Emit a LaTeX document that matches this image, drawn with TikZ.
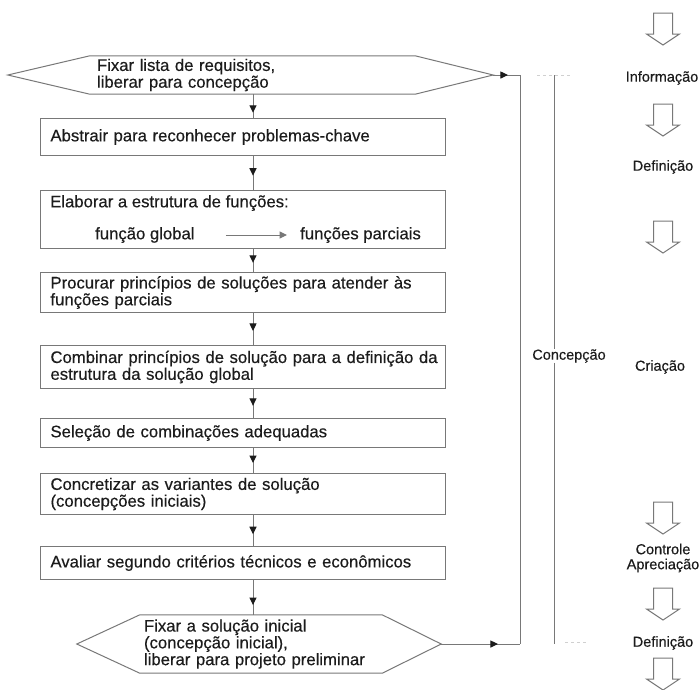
\documentclass[tikz,border=0pt]{standalone}
\usepackage{fontspec}
\setmainfont{Liberation Sans}[FakeBold=0.35]
\usetikzlibrary{arrows.meta,decorations.markings}

\definecolor{linegray}{RGB}{120,120,120}
\definecolor{inkdark}{RGB}{28,28,28}
\newcommand\mainsize{\fontsize{16.7}{16.8}\selectfont}
\newcommand\sidesize{\fontsize{14.5}{15}\selectfont}

\tikzset{
  tiptri/.tip={Triangle[length=7.5pt,width=7pt]},
  flowline/.style={draw=linegray, line width=1pt},
  midarrow/.style={flowline, postaction={decorate},
    decoration={markings, mark=at position #1 with {\arrow[inkdark]{tiptri}}}},
  stepbox/.style={draw=linegray, line width=1pt, anchor=north west,
    minimum width=405pt, minimum height=#1, text width=385pt,
    inner xsep=10pt, inner ysep=0pt, align=left, font=\mainsize, text=inkdark},
  hexbody/.style={draw=none, inner ysep=0pt, align=left, font=\mainsize, text=inkdark},
  linetext/.style={inner sep=0pt, font=\mainsize, text=inkdark, anchor=west},
  sidelabel/.style={inner sep=0pt, font=\sidesize, text=inkdark, align=center},
  hollowdown/.pic={
    \draw[draw=linegray, line width=1pt, line join=miter]
      (-9.5,0) -- (9.5,0) -- (9.5,21) -- (16.5,21) -- (0,32)
      -- (-16.5,21) -- (-9.5,21) -- cycle;
  },
}

\begin{document}
\begin{tikzpicture}[x=1pt,y=-1pt]
\useasboundingbox[fill=white] (0,0) rectangle (700,689);

% main flow axis
\coordinate (axis) at (253,0);

% entry hexagon
\node[hexbody, minimum width=325pt, minimum height=38pt, text width=311pt,
      inner xsep=7pt] (fix1) at (252.5,75) {Fixar lista de requisitos,\\liberar para concepção};
\draw[flowline] (fix1.north west) -- (fix1.north east)
  -- ([xshift=78pt]fix1.east) coordinate (fix1tip)
  -- (fix1.south east) -- (fix1.south west)
  -- ([xshift=-82pt]fix1.west) -- cycle;

% working steps
\node[stepbox=37pt] (b1) at (40,118) {Abstrair para reconhecer problemas-chave};
\node[stepbox=58pt] (b2) at (40,190) {};
\node[linetext] (b2head) at (50,203) {Elaborar a estrutura de funções:};
\node[linetext] (fglob) at (95,235) {função global};
\node[linetext] (fparc) at (300,235) {funções parciais};
\draw[flowline, -{tiptri}] ([xshift=31pt]fglob.east) -- ([xshift=-13pt]fparc.west);
\node[stepbox=40pt] (b3) at (40,272) {\mbox{Procurar princípios de soluções para atender às}\\funções parciais};
\node[stepbox=43pt] (b4) at (40,345) {\mbox{Combinar princípios de solução para a definição da}\\estrutura da solução global};
\node[stepbox=29pt] (b5) at (40,418) {Seleção de combinações adequadas};
\node[stepbox=41pt] (b6) at (40,473) {Concretizar as variantes de solução\\(concepções iniciais)};
\node[stepbox=33pt] (b7) at (40,546) {Avaliar segundo critérios técnicos e econômicos};

% exit hexagon
\node[hexbody, minimum width=242pt, minimum height=58pt, text width=234pt,
      inner xsep=4pt] (fix2) at (261,644) {Fixar a solução inicial\\(concepção inicial),\\\mbox{liberar para projeto preliminar}};
\draw[flowline] (fix2.north west) -- (fix2.north east)
  -- ([xshift=59pt]fix2.east) coordinate (fix2tip)
  -- (fix2.south east) -- (fix2.south west)
  -- ([xshift=-63pt]fix2.west) -- cycle;

% downward connectors
\draw[midarrow=0.78] (fix1.south -| axis) -- (b1.north -| axis);
\draw[midarrow=0.58] (b1.south -| axis) -- (b2.north -| axis);
\draw[midarrow=0.6] (b2.south -| axis) -- (b3.north -| axis);
\draw[midarrow=0.56] (b3.south -| axis) -- (b4.north -| axis);
\draw[midarrow=0.58] (b4.south -| axis) -- (b5.north -| axis);
\draw[midarrow=0.6] (b5.south -| axis) -- (b6.north -| axis);
\draw[midarrow=0.62] (b6.south -| axis) -- (b7.north -| axis);
\draw[midarrow=0.72] (b7.south -| axis) -- (fix2.north -| axis);

% phase bracket
\coordinate (rtop) at (520,75);
\coordinate (rbot) at (520,644);
\draw[midarrow=0.55] (fix1tip) -- (rtop);
\draw[midarrow=0.72] (fix2tip) -- (rbot);
\draw[flowline] (rtop) -- (rbot);

\node[sidelabel] (phase) at (569,356) {Concepção};
\coordinate (ptop) at (554,75);
\coordinate (pbot) at (554,644);
\draw[flowline] (ptop) -- (phase.north -| ptop);
\draw[flowline] (phase.south -| pbot) -- (pbot);
\draw[draw=linegray!35, line width=0.6pt, dashed] (537,75) -- (570,75);
\draw[draw=linegray!35, line width=0.6pt, dashed] (565,642) -- (588,642);

% information steps on the right
\pic at (663,13) {hollowdown};
\node[sidelabel] (s1) at (662,78) {Informação};
\pic at (663,104) {hollowdown};
\node[sidelabel] (s2) at (663,167) {Definição};
\pic at (663,221) {hollowdown};
\node[sidelabel] (s3) at (660,367) {Criação};
\pic at (663,502) {hollowdown};
\node[sidelabel] (s4) at (663,558) {Controle\\Apreciação};
\pic at (663,588) {hollowdown};
\node[sidelabel] (s5) at (663,643) {Definição};
\begin{scope}
  \clip (600,650) rectangle (700,689);
  \pic at (663,658) {hollowdown};
\end{scope}
\end{tikzpicture}
\end{document}
